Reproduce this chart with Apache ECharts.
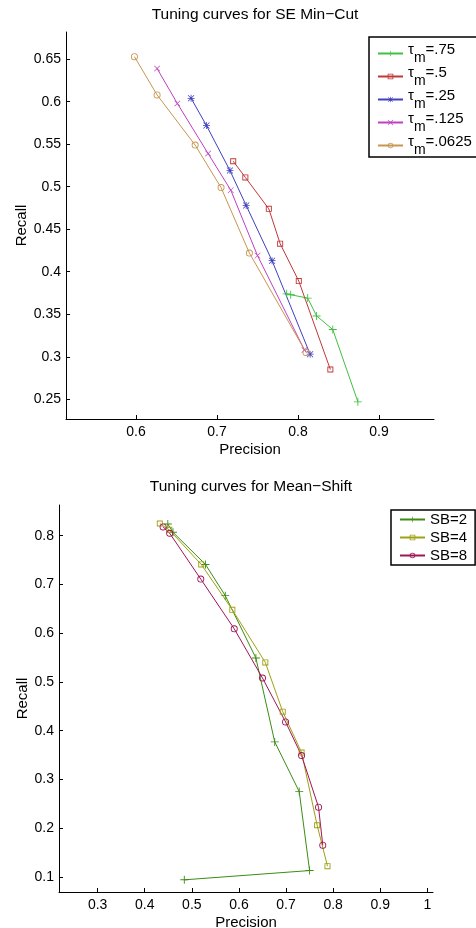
<!DOCTYPE html>
<html>
<head>
<meta charset="utf-8">
<script src="https://cdn.jsdelivr.net/npm/echarts@6/dist/echarts.min.js"></script>
<style>
  html, body { margin: 0; padding: 0; background: #fff; }
  #chart { width: 476px; height: 928px; }
</style>
</head>
<body>
<div id="chart"></div>
<script>
// --- top plot: SE Min-Cut, one curve per tau_m ---
var tauNames = ['.75', '.5', '.25', '.125', '.0625'];
var tau75Precision = [0.786, 0.791, 0.812, 0.823, 0.843, 0.874];
var tau75Recall    = [0.374, 0.373, 0.369, 0.348, 0.332, 0.247];
var tau5Precision  = [0.720, 0.735, 0.764, 0.778, 0.801, 0.840];
var tau5Recall     = [0.530, 0.511, 0.474, 0.433, 0.389, 0.285];
var tau25Precision = [0.668, 0.687, 0.716, 0.736, 0.768, 0.815];
var tau25Recall    = [0.604, 0.572, 0.519, 0.478, 0.413, 0.303];
var tau125Precision = [0.626, 0.651, 0.689, 0.717, 0.750, 0.808];
var tau125Recall    = [0.639, 0.598, 0.539, 0.496, 0.419, 0.308];
var tau0625Precision = [0.598, 0.626, 0.673, 0.705, 0.740, 0.810];
var tau0625Recall    = [0.653, 0.608, 0.549, 0.499, 0.422, 0.305];
var topXTicks = [0.6, 0.7, 0.8, 0.9];
var topYTicks = [0.25, 0.3, 0.35, 0.4, 0.45, 0.5, 0.55, 0.6, 0.65];

// --- bottom plot: Mean-Shift, one curve per SB ---
var sbNames = ['SB=2', 'SB=4', 'SB=8'];
var sb2Precision = [0.449, 0.460, 0.529, 0.571, 0.636, 0.676, 0.728, 0.750, 0.484];
var sb2Recall    = [0.824, 0.807, 0.741, 0.677, 0.549, 0.377, 0.275, 0.113, 0.094];
var sb4Precision = [0.432, 0.452, 0.520, 0.586, 0.656, 0.693, 0.733, 0.766, 0.788];
var sb4Recall    = [0.825, 0.812, 0.741, 0.648, 0.540, 0.439, 0.355, 0.206, 0.122];
var sb8Precision = [0.439, 0.453, 0.519, 0.590, 0.650, 0.699, 0.733, 0.769, 0.778];
var sb8Recall    = [0.818, 0.805, 0.711, 0.609, 0.508, 0.418, 0.349, 0.243, 0.165];
var botXTicks = [0.3, 0.4, 0.5, 0.6, 0.7, 0.8, 0.9, 1];
var botYTicks = [0.1, 0.2, 0.3, 0.4, 0.5, 0.6, 0.7, 0.8];

var FONT = "'Liberation Sans', Arial, Helvetica, sans-serif";

// marker shapes, drawn as thin filled outlines (inner part has opposite winding)
var PLUS = 'path://M4,0h1v9h-1zM0,4h9v1h-9z';
var CROSS = 'path://M0.7,0L9,8.3L8.3,9L0,0.7zM8.3,0L9,0.7L0.7,9L0,8.3z';
var STAR = 'path://M4,0h1v9h-1zM0,4h9v1h-9zM1,0.3L8.7,8L8,8.7L0.3,1zM8,0.3L8.7,1L1,8.7L0.3,8z';
var SQUARE = 'path://M0,0H8V8H0ZM1.2,1.2V6.8H6.8V1.2Z';
var RING = 'path://M5,0A5,5 0 1,1 5,10A5,5 0 1,1 5,0ZM5,1.3A3.7,3.7 0 1,0 5,8.7A3.7,3.7 0 1,0 5,1.3Z';

function zip(xs, ys) {
    var out = [];
    for (var i = 0; i < xs.length; i++) out.push([xs[i], ys[i]]);
    return out;
}

function mkSeries(name, idx, xs, ys, color, symbol, size) {
    return {
        name: name,
        type: 'line',
        xAxisIndex: idx,
        yAxisIndex: idx,
        data: zip(xs, ys),
        symbol: symbol,
        symbolSize: size,
        showAllSymbol: true,
        animation: false,
        lineStyle: { color: color, width: 1 },
        itemStyle: { color: color, borderWidth: 0 },
        emphasis: { disabled: true }
    };
}

function valueAxis(idx, min, max, ticks, name, nameGap, isY) {
    return {
        type: 'value',
        gridIndex: idx,
        min: min,
        max: max,
        name: name,
        nameLocation: 'middle',
        nameGap: nameGap,
        nameMoveOverlap: false,
        nameTextStyle: { fontFamily: FONT, fontSize: 15, color: '#000' },
        splitLine: { show: false },
        axisLine: { show: true, onZero: false, lineStyle: { color: '#000', width: 1 } },
        axisTick: { show: true, inside: true, length: 4, customValues: ticks, lineStyle: { color: '#000' } },
        axisLabel: {
            customValues: ticks,
            margin: isY ? 5 : 6,
            fontFamily: FONT,
            fontSize: 14,
            color: '#000',
            formatter: function (v) { return String(+v.toFixed(2)); }
        }
    };
}

var chart = echarts.init(document.getElementById('chart'), null, { renderer: 'canvas' });

var legendText = { fontFamily: FONT, fontSize: 15, color: '#000' };

chart.setOption({
    backgroundColor: '#fff',
    animation: false,
    title: [
        { text: 'Tuning curves for SE Min\u2212Cut', left: 250, top: 2, textAlign: 'center',
          textStyle: { fontFamily: FONT, fontSize: 15.5, fontWeight: 'normal', color: '#000' } },
        { text: 'Tuning curves for Mean\u2212Shift', left: 246, top: 474, textAlign: 'center',
          textStyle: { fontFamily: FONT, fontSize: 15.5, fontWeight: 'normal', color: '#000' } }
    ],
    grid: [
        { left: 66, right: 42, top: 32, height: 387, outerBoundsMode: 'none', containLabel: false },
        { left: 59, right: 43, top: 505, height: 387, outerBoundsMode: 'none', containLabel: false }
    ],
    legend: [
        {
            data: tauNames.map(function (t) { return '\u03c4m=' + t; }),
            orient: 'vertical',
            left: 369, top: 37,
            padding: [5, 8, 0, 8],
            itemWidth: 25, itemHeight: 7, itemGap: 0,
            backgroundColor: '#fff',
            borderColor: '#000', borderWidth: 1.5, borderRadius: 0,
            selectedMode: false,
            formatter: function (name) {
                return '{t|\u03c4}{s|m}{t|' + name.slice(2) + '}';
            },
            textStyle: {
                fontFamily: FONT, fontSize: 15, color: '#000',
                rich: {
                    t: { fontFamily: FONT, fontSize: 15, color: '#000', padding: [0, 0, 8, 0] },
                    s: { fontFamily: FONT, fontSize: 14, color: '#000', padding: [9, 0, 0, 0] }
                }
            }
        },
        {
            data: sbNames,
            orient: 'vertical',
            left: 391, top: 510,
            padding: [2, 8, 2, 8],
            itemWidth: 25, itemHeight: 7, itemGap: 3,
            backgroundColor: '#fff',
            borderColor: '#000', borderWidth: 1.5, borderRadius: 0,
            selectedMode: false,
            textStyle: legendText
        }
    ],
    xAxis: [
        valueAxis(0, 0.5135, 0.968, topXTicks, 'Precision', 23, false),
        valueAxis(1, 0.218, 1.012, botXTicks, 'Precision', 23.5, false)
    ],
    yAxis: [
        valueAxis(0, 0.2268, 0.682, topYTicks, 'Recall', 37, true),
        valueAxis(1, 0.069, 0.863, botYTicks, 'Recall', 29, true)
    ],
    series: [
        mkSeries('\u03c4m=.75', 0, tau75Precision, tau75Recall, '#40c040', PLUS, 8),
        mkSeries('\u03c4m=.5', 0, tau5Precision, tau5Recall, '#c03838', SQUARE, 6),
        mkSeries('\u03c4m=.25', 0, tau25Precision, tau25Recall, '#4040c0', STAR, 7),
        mkSeries('\u03c4m=.125', 0, tau125Precision, tau125Recall, '#c040c0', CROSS, 6),
        mkSeries('\u03c4m=.0625', 0, tau0625Precision, tau0625Recall, '#c89650', RING, 7),
        mkSeries('SB=2', 1, sb2Precision, sb2Recall, '#3c8c14', PLUS, 8),
        mkSeries('SB=4', 1, sb4Precision, sb4Recall, '#a0a014', SQUARE, 6),
        mkSeries('SB=8', 1, sb8Precision, sb8Recall, '#a01456', RING, 7)
    ]
});
</script>
</body>
</html>
